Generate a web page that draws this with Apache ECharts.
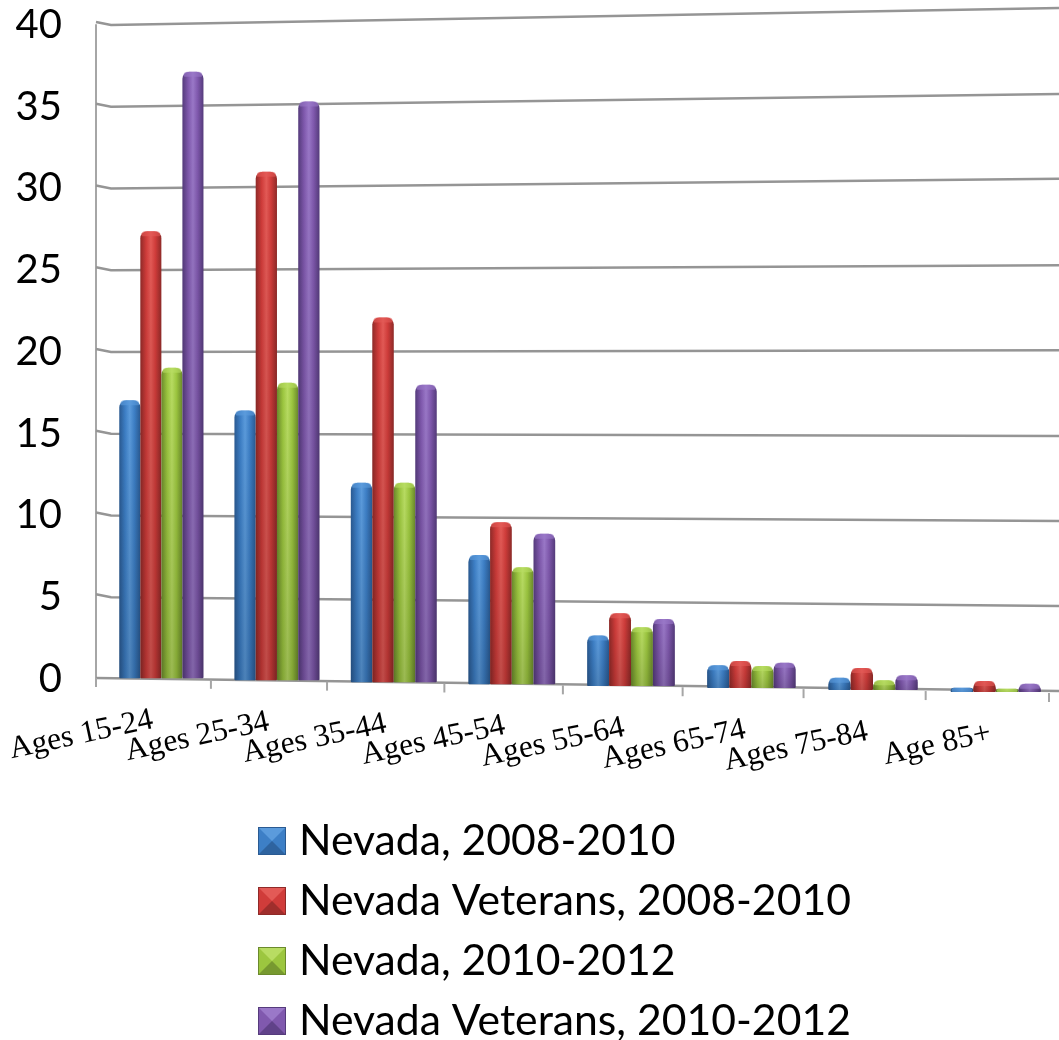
<!DOCTYPE html>
<html><head><meta charset="utf-8">
<style>html,body{margin:0;padding:0;background:#fff}#c{width:1059px;height:1040px}</style>
<script src="https://cdn.jsdelivr.net/npm/echarts@6/dist/echarts.min.js"></script>
</head><body><div id="c"></div>
<script>
const categories = ['Ages 15-24','Ages 25-34','Ages 35-44','Ages 45-54','Ages 55-64','Ages 65-74','Ages 75-84','Age 85+'];
const nevada0810 = [17.0,16.5,12.2,7.9,3.1,1.4,0.75,0.25];
const veterans0810 = [27.35,31.1,22.3,9.9,4.45,1.65,1.35,0.67];
const nevada1012 = [19.0,18.2,12.2,7.15,3.6,1.35,0.6,0.2];
const veterans1012 = [37.1,35.4,18.2,9.2,4.1,1.55,0.9,0.5];
const gridTicks = [0,5,10,15,20,25,30,35,40];
const gridFarEnd = [-0.73,4.47,9.67,14.86,20.1,25.3,30.6,35.78,41.04];

const seriesDefs = [
  {name:'Nevada, 2008-2010', values:nevada0810, dark:'#2a5a92', mid:'#3d7fc6', cap:'#5b9bdc'},
  {name:'Nevada Veterans, 2008-2010', values:veterans0810, dark:'#8f2a28', mid:'#d03c3a', cap:'#e35a56'},
  {name:'Nevada, 2010-2012', values:nevada1012, dark:'#6b8a2c', mid:'#9cc63f', cap:'#b8dc62'},
  {name:'Nevada Veterans, 2010-2012', values:veterans1012, dark:'#553b7c', mid:'#8059ae', cap:'#9a78c8'}
];

// slight perspective of the original 3D chart
function bandK(cs, px){ return (px - cs.x) / (cs.width / 8); }
function warp(cs, k){ return cs.x + k * cs.width / 8 - 0.6 * k * (8 - k); }
function floorShift(i){ return -0.7 + 1.95 * i; }

function icon(d){
  const svg = `<svg xmlns="http://www.w3.org/2000/svg" width="36" height="28" viewBox="0 0 36 28">
<rect width="28" height="28" fill="${d.mid}"/>
<polygon points="0,0 28,0 14,14" fill="${d.cap}"/>
<polygon points="0,28 28,28 14,14" fill="${d.dark}" opacity="0.75"/>
<rect x="0.5" y="0.5" width="27" height="27" fill="none" stroke="${d.dark}"/>
</svg>`;
  return 'image://data:image/svg+xml;charset=utf-8,' + encodeURIComponent(svg);
}

function barItem(sIdx, d){
  return function(params, api){
    const cs = params.coordSys;
    const i = api.value(0), v = api.value(1);
    const p0 = api.coord([i,0]), p1 = api.coord([i,v]);
    const k = bandK(cs, p0[0]) + 0.07;
    const cx = warp(cs, k);
    const w = 0.183 * (cs.width/8 - 0.6*(8 - 2*k));
    const bottom = p0[1] + floorShift(i);
    const top = bottom - (p0[1] - p1[1]);
    const x = cx + (sIdx - 2) * w;
    const h = Math.max(bottom - top, 1);
    const r = Math.min(7, h);
    const grad = {type:'linear',x:0,y:0,x2:1,y2:0,colorStops:[
      {offset:0,color:d.dark},{offset:0.28,color:d.mid},{offset:0.5,color:d.cap},{offset:0.72,color:d.mid},{offset:1,color:d.dark}]};
    const shade = {type:'linear',x:0,y:0,x2:0,y2:1,colorStops:[
      {offset:0,color:'rgba(0,0,0,0)'},{offset:1,color:'rgba(0,0,0,0.16)'}]};
    return {type:'group',children:[
      {type:'rect',shape:{x:x,y:top,width:w,height:h,r:[r,r,1,1]},style:{fill:grad}},
      {type:'rect',shape:{x:x,y:top,width:w,height:h,r:[r,r,1,1]},style:{fill:shade}},
      {type:'rect',shape:{x:x+1,y:top,width:w-2,height:Math.min(5,h),r:[r,r,2,2]},style:{fill:d.cap,opacity:0.6}}
    ]};
  };
}

const barSeries = seriesDefs.map((d,s)=>({
  name:d.name, type:'custom', coordinateSystem:'cartesian2d', z:5,
  itemStyle:{color:d.mid},
  encode:{x:0,y:1},
  data:d.values.map((v,i)=>[i,v]),
  renderItem:barItem(s,d)
}));

const gridSeries = {
  type:'custom', coordinateSystem:'cartesian2d', z:1, silent:true,
  encode:{y:1},
  data:gridTicks.map((t,i)=>[0,t,gridFarEnd[i]]),
  renderItem:function(params, api){
    const cs = params.coordSys;
    const yL = api.coord([0,api.value(1)])[1], yR = api.coord([0,api.value(2)])[1];
    const isFloor = api.value(1) === 0;
    const pts = isFloor ? [[cs.x,yL-1],[cs.x+cs.width+10,yR]]
                        : [[cs.x,yL-3],[cs.x+15,yL],[cs.x+cs.width+10,yR]];
    return {type:'polyline',shape:{points:pts},style:{stroke:'#959595',lineWidth:2.5,fill:null}};
  }
};

const tickSeries = {
  type:'custom', coordinateSystem:'cartesian2d', z:1, silent:true,
  encode:{y:1},
  data:[0,1,2,3,4,5,6,7,8].map(k=>[k,0]),
  renderItem:function(params, api){
    const cs = params.coordSys;
    const k = api.value(0);
    const x = warp(cs,k);
    const y = api.coord([0,0])[1] - 1 + 15 * (x - cs.x) / cs.width;
    return {type:'line',shape:{x1:x,y1:y,x2:x,y2:y+9},style:{stroke:'#a6a6a6',lineWidth:2}};
  }
};

const labelSeries = {
  type:'custom', coordinateSystem:'cartesian2d', z:6, silent:true,
  encode:{x:0,y:1},
  data:categories.map((c,i)=>[i,0]),
  renderItem:function(params, api){
    const cs = params.coordSys;
    const i = api.value(0);
    const p0 = api.coord([i,0]);
    const k = bandK(cs,p0[0]) + 0.5;
    return {type:'text',x:warp(cs,k)-55,y:p0[1]+floorShift(i)+57,rotation:0.21,originX:0,originY:0,
      style:{text:categories[i],font:'31.5px "Liberation Serif"',fill:'#000',align:'right',verticalAlign:'bottom'}};
  }
};

const chart = echarts.init(document.getElementById('c'),null,{renderer:'canvas'});
chart.setOption({
  animation:false,
  backgroundColor:'#fff',
  grid:{left:96,right:10,top:25,height:654,containLabel:false},
  xAxis:{type:'category',data:categories,show:false},
  yAxis:{type:'value',min:0,max:40,interval:5,
    axisLine:{show:true,lineStyle:{color:'#a6a6a6',width:2}},
    axisTick:{show:false},splitLine:{show:false},
    axisLabel:{margin:34,fontFamily:'Lato',fontSize:40,color:'#000'}},
  legend:{orient:'vertical',left:258,top:817,padding:0,height:230,itemWidth:36,itemHeight:28,itemGap:12,selectedMode:false,
    textStyle:{fontFamily:'Lato',fontSize:42.7,color:'#000',lineHeight:48},
    data:seriesDefs.map(d=>({name:d.name,icon:icon(d)}))},
  series:[gridSeries,tickSeries,labelSeries].concat(barSeries)
});
</script></body></html>
